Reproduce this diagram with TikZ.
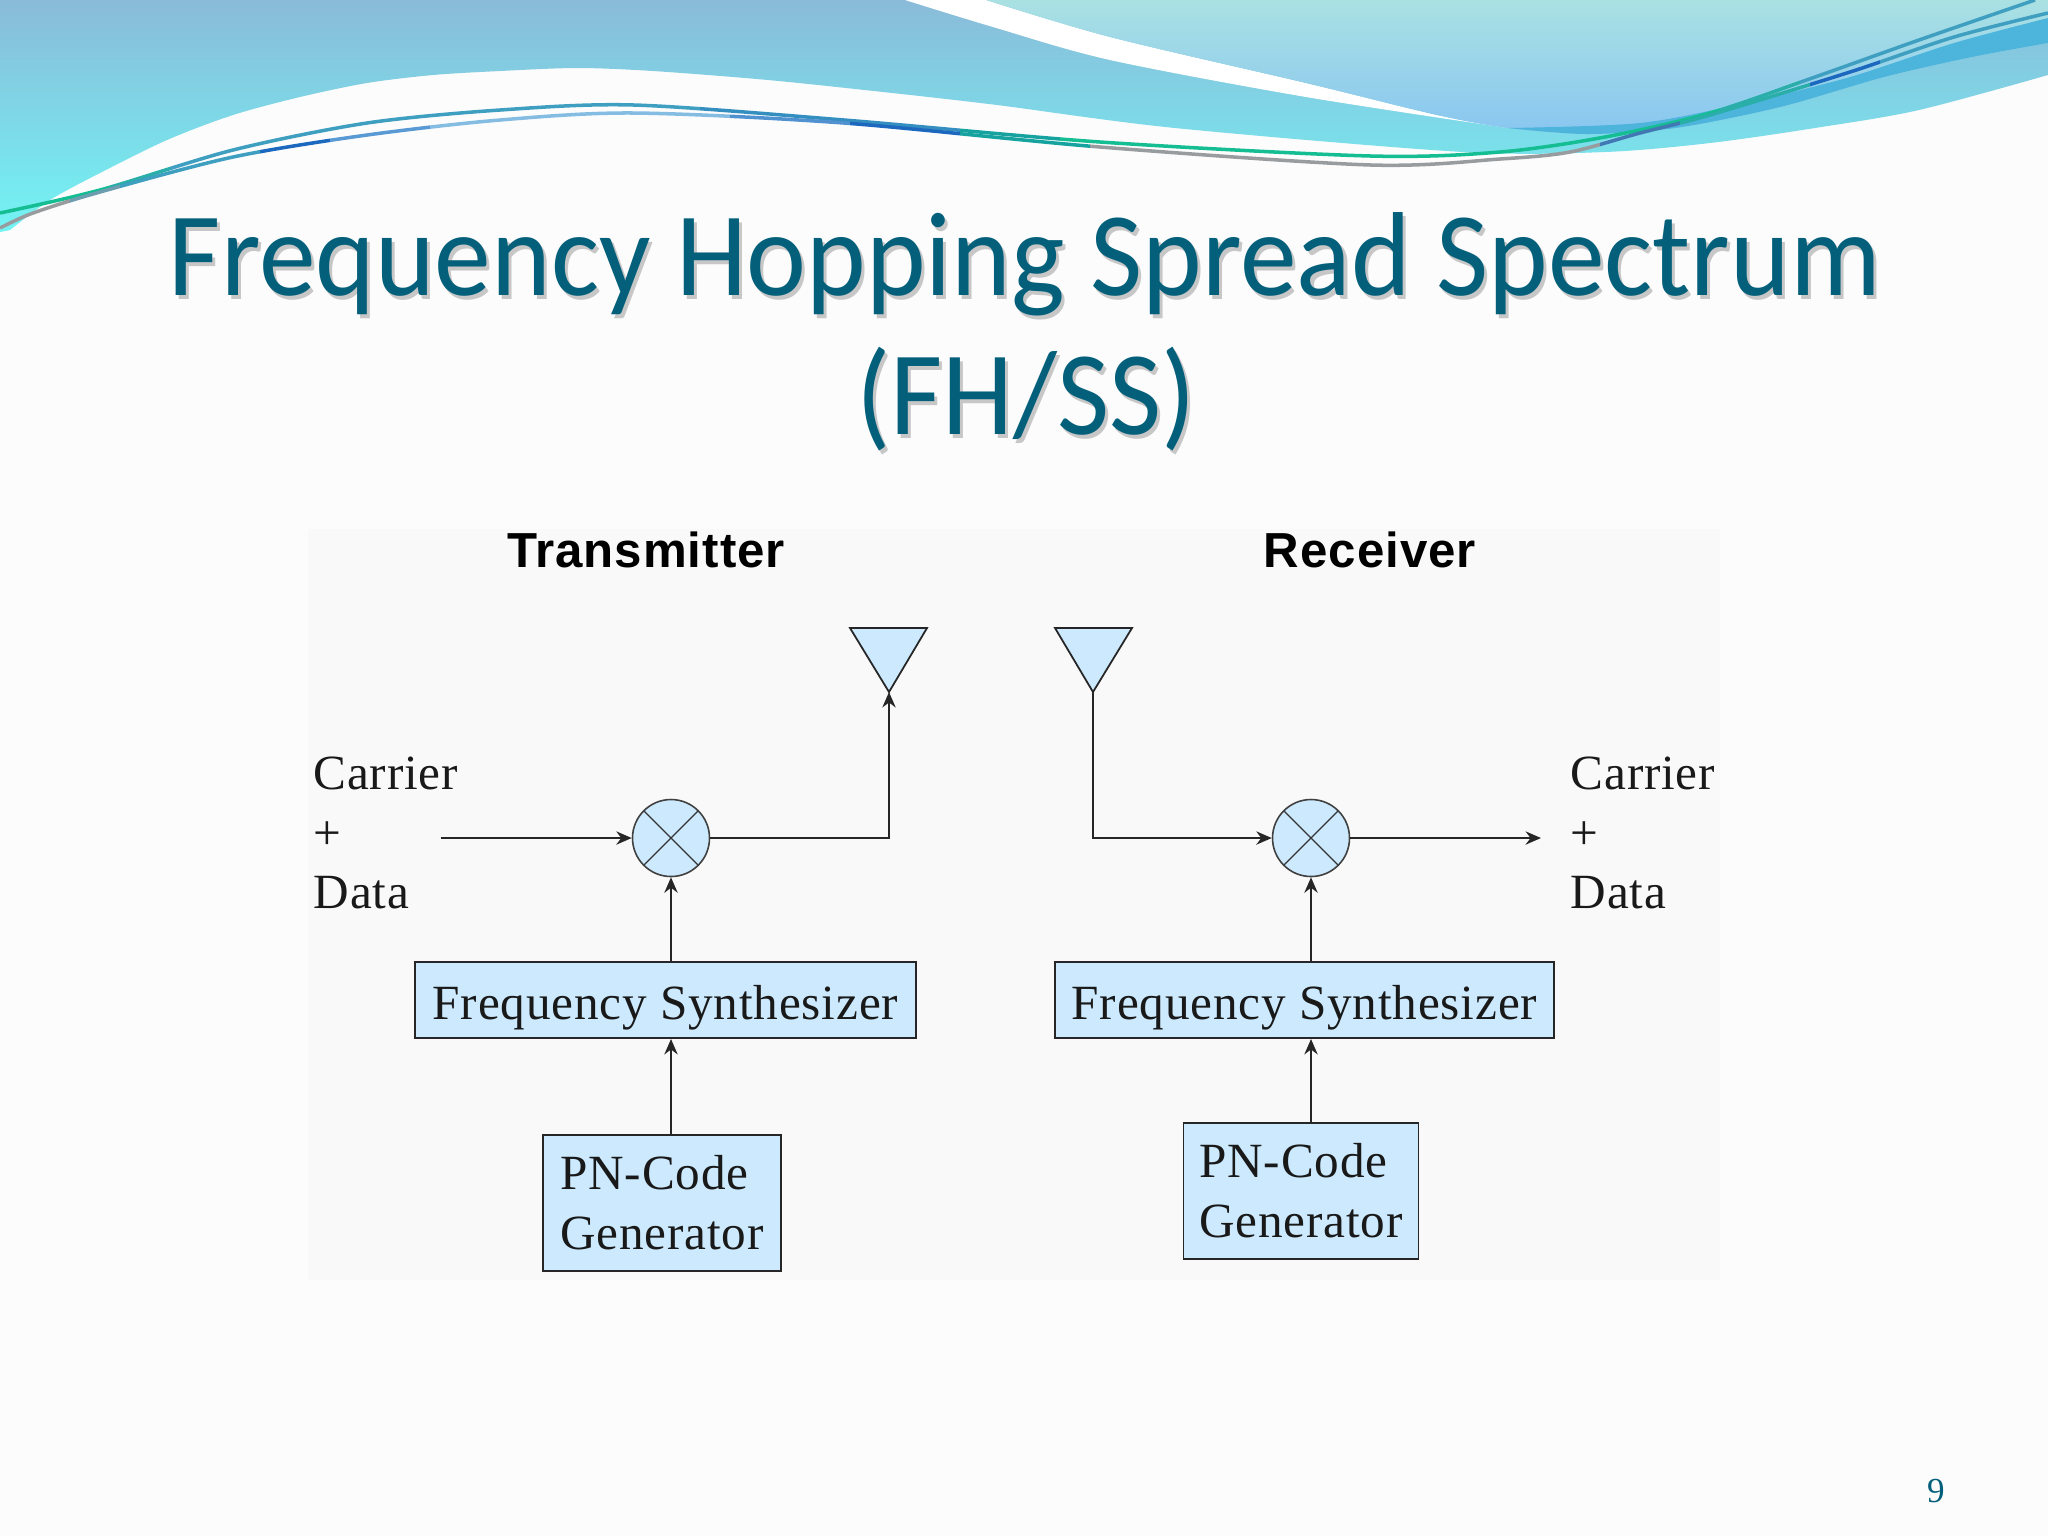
\documentclass[tikz,border=0pt]{standalone}
\usepackage{fontspec}
\setmainfont[LetterSpace=1.7]{Liberation Serif}
\newfontfamily\titlefont[FakeStretch=0.95]{Carlito}
\newfontfamily\pagefont{Liberation Serif}
\newfontfamily\headfont[LetterSpace=2]{Liberation Sans}
\usetikzlibrary{positioning,arrows.meta}
\definecolor{slidebg}{HTML}{FCFCFD}
\definecolor{panelbg}{HTML}{F9F9FA}
\definecolor{boxfill}{HTML}{CCE9FD}
\definecolor{titleblue}{HTML}{04607A}
\definecolor{seatop}{HTML}{8ABBD9}
\definecolor{seabot}{HTML}{72F4F4}
\definecolor{lighttop}{HTML}{A9E1E3}
\definecolor{lightbot}{HTML}{89C6F0}
\definecolor{bandblue}{HTML}{4DB4DC}
\definecolor{wgreen}{HTML}{14BD92}
\definecolor{wteal}{HTML}{3F9FC0}
\definecolor{wpale}{HTML}{84BCE2}
\definecolor{wdeep}{HTML}{1B68BE}
\definecolor{wgray}{HTML}{989C9E}
\tikzset{
  box/.style={draw=black!85,fill=boxfill,line width=0.55pt,inner sep=0pt,align=left,font=\fontsize{14}{17}\selectfont,text=black!90},
  mix/.style={draw=black!75,fill=boxfill,circle,minimum size=7.7mm,inner sep=0pt,line width=0.45pt,path picture={\draw[line width=0.35pt,black!80] (path picture bounding box.south west)--(path picture bounding box.north east) (path picture bounding box.north west)--(path picture bounding box.south east);}},
  lab/.style={inner sep=0pt,align=left,anchor=north west,font=\fontsize{14}{17}\selectfont,text=black!90},
  head/.style={inner sep=0pt,font=\headfont\bfseries\fontsize{14}{17}\selectfont},
  tit/.style={inner sep=0pt,font=\titlefont\fontsize{34}{38}\selectfont,text=titleblue},
  titsh/.style={tit,text=black!22},
  wire/.style={line width=0.5pt,black!85},
  wave/.style={line width=1pt}
}
\def\waveA{plot[smooth] coordinates {(0,213)(100,190)(233,150)(367,123)(500,110)(634,105)(844,120)(1100,142)(1371,156)(1500,152)(1605,137)(1710,113)(1815,77)(1919,40)(2035,0)}}
\def\waveB{plot[smooth] coordinates {(0,228)(33,213)(100,192)(233,157)(367,135)(500,120)(634,113)(844,123)(1100,147)(1371,165)(1500,159)(1570,152)(1640,133)(1710,115)(1850,72)(1954,37)(2048,13)}}
\begin{document}
\begin{tikzpicture}[>={Stealth[length=4.4pt,width=3.8pt]},x=0.1mm,y=-0.1mm]
\useasboundingbox (0,0) rectangle (2048,1536);
\fill[slidebg] (0,0) rectangle (2048,1536);
\shade[top color=seatop,bottom color=seabot] (0,0)--(2048,0)--plot[smooth] coordinates {(2048,75)(1919,110)(1815,128)(1710,143)(1605,152)(1463,152)(1175,128)(997,105)(883,92)(768,80)(653,71)(577,68)(500,71)(433,75)(367,83)(300,97)(233,115)(167,140)(100,173)(50,200)(10,230)}--(0,232)--cycle;
\fill[white] (905,0)--plot[smooth] coordinates {(905,0)(993,27)(1110,60)(1306,97)(1508,128)}--plot[smooth] coordinates {(1508,128)(1437,115)(1306,83)(1110,37)(986,0)}--cycle;
\shade[top color=lighttop,bottom color=lightbot] (986,0)--plot[smooth] coordinates {(986,0)(1110,37)(1306,83)(1437,115)(1508,128)(1587,134)(1675,128)(1780,107)(1884,77)(1972,57)(2048,43)}--(2048,0)--cycle;
\fill[bandblue] (1508,128)--plot[smooth] coordinates {(1508,128)(1587,134)(1675,128)(1780,107)(1884,77)(1972,57)(2048,43)}--plot[smooth] coordinates {(2048,18)(1954,43)(1850,77)(1745,103)(1640,123)(1508,128)}--cycle;
\foreach \xa/\xb/\col in {0/110/wgreen,110/170/wgreen!50!wteal,170/700/wteal,700/960/wteal!70!wdeep,960/1060/wgreen!70!wdeep,1060/1720/wgreen,1720/1800/wgreen!50!wteal,1800/2048/wteal}{
\begin{scope}\clip (\xa,0) rectangle (\xb,300);\draw[wave,\col] \waveA;\end{scope}}
\foreach \xa/\xb/\col in {0/70/wgray,70/120/wgray!50!wteal,120/260/wteal,260/330/wdeep,330/430/wdeep!40!wpale,430/730/wpale,730/850/wpale!50!wdeep,850/960/wdeep,960/1090/wdeep!30!wgreen,1090/1600/wgray,1600/1680/wgray!30!wdeep,1680/1810/wgreen!50!wteal,1810/1880/wdeep,1880/2048/wteal}{
\begin{scope}\clip (\xa,0) rectangle (\xb,300);\draw[wave,\col] \waveB;\end{scope}}
\node[titsh] at (1028,268) {Frequency Hopping Spread Spectrum};
\node[tit] (title1) at (1025,264) {Frequency Hopping Spread Spectrum};
\node[titsh] at (1029,403) {(FH/SS)};
\node[tit] (title2) at (1026,399) {(FH/SS)};
\fill[panelbg] (308,529) rectangle (1720,1280);
\node[head] (tx) at (646,550) {Transmitter};
\node[head] (rx) at (1370,550) {Receiver};
\node[lab] (in1) at (313,756) {Carrier\\+\\Data};
\node[lab] (out2) at (1570,756) {Carrier\\+\\Data};
\node[mix] (m1) at (671,838) {};
\node[mix] (m2) at (1311,838) {};
\node[box,minimum width=50.1mm,minimum height=7.6mm,text height=13.8pt,text depth=3pt] (fs1) at (665.5,1000) {Frequency Synthesizer};
\node[box,minimum width=49.9mm,minimum height=7.6mm,text height=13.8pt,text depth=3pt] (fs2) at (1304.5,1000) {Frequency Synthesizer};
\node[box,minimum width=23.8mm,minimum height=13.6mm] (pn1) at (662,1203) {PN-Code\\Generator};
\node[box,minimum width=23.5mm,minimum height=13.6mm] (pn2) at (1301,1191) {PN-Code\\Generator};
\coordinate (a1) at (889,692);
\coordinate (a2) at (1093,692);
\coordinate (s1) at (441,838);
\coordinate (e2) at (1541,838);
\draw[wire,fill=boxfill] (850,628)--(927,628)--(a1)--cycle;
\draw[wire,fill=boxfill] (1055,628)--(1132,628)--(a2)--cycle;
\draw[wire,->] (s1)--(m1);
\draw[wire,->] (m1)-|(a1);
\draw[wire,->] (fs1.north-|m1)--(m1);
\draw[wire,->] (pn1.north-|m1)--(fs1.south-|m1);
\draw[wire,->] (a2)|-(m2);
\draw[wire,->] (m2)--(e2);
\draw[wire,->] (fs2.north-|m2)--(m2);
\draw[wire,->] (pn2.north-|m2)--(fs2.south-|m2);
\node[font=\pagefont\fontsize{10}{12}\selectfont,text=titleblue,inner sep=0pt] (pg) at (1936,1491) {9};
\end{tikzpicture}
\end{document}
